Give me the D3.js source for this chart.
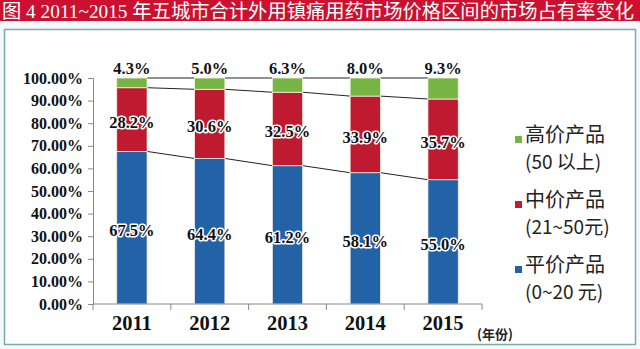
<!DOCTYPE html>
<html><head><meta charset="utf-8">
<script src="https://cdn.jsdelivr.net/npm/d3@7"></script>
<style>
html,body{margin:0;padding:0;background:#fff;}
svg{display:block;}
</style></head>
<body>
<svg id="c" width="640" height="349"></svg>
<script>
// ---- data ----
const years = ["2011","2012","2013","2014","2015"];
const lowShare  = [67.5, 64.4, 61.2, 58.1, 55.0];   // 平价产品
const midShare  = [28.2, 30.6, 32.5, 33.9, 35.7];   // 中价产品
const highShare = [4.3, 5.0, 6.3, 8.0, 9.3];        // 高价产品
const yTicks = [0,10,20,30,40,50,60,70,80,90,100];
const seriesNames = ["平价产品","中价产品","高价产品"];
const legendLines = [["高价产品","(50 以上)"],["中价产品","(21~50元)"],["平价产品","(0~20 元)"]];
const titleText = "图 4 2011~2015 年五城市合计外用镇痛用药市场价格区间的市场占有率变化";

const colors = {"平价产品":"#2462a8","中价产品":"#bf1a30","高价产品":"#76b443"};
const serif = "'Liberation Serif','DejaVu Serif',serif";
const cjk = "'Noto Sans CJK SC','Noto Sans',sans-serif";

const svg = d3.select("#c");
svg.append("rect").attr("width",640).attr("height",349).attr("fill","#f3f8fb");

// title bar
svg.append("rect").attr("x",0).attr("y",0).attr("width",640).attr("height",21).attr("fill","#cc1030");
svg.append("text").attr("x",2).attr("y",17.5).attr("fill","#fff")
  .attr("font-family",serif+","+cjk).attr("font-size",19.5)
  .attr("textLength",632).attr("lengthAdjust","spacingAndGlyphs")
  .text(titleText);

// chart box
svg.append("rect").attr("x",4.5).attr("y",29.5).attr("width",631).attr("height",315)
  .attr("fill","#fff").attr("stroke","#7fa9ab").attr("stroke-width",1.5);

// scales
const x = d3.scaleBand().domain(years).range([93,482]).paddingInner(0.61).paddingOuter(0.305);
const y = d3.scaleLinear().domain([0,100]).range([304,78]);

// stack
const rows = years.map((yr,i)=>({year:yr,"平价产品":lowShare[i],"中价产品":midShare[i],"高价产品":highShare[i]}));
const stack = d3.stack().keys(seriesNames)(rows);

// series lines (connect segment tops between bars)
stack.forEach(s=>{
  for(let i=0;i<years.length-1;i++){
    svg.append("line")
      .attr("x1",x(years[i])+x.bandwidth()).attr("y1",y(s[i][1]))
      .attr("x2",x(years[i+1])).attr("y2",y(s[i+1][1]))
      .attr("stroke","#222").attr("stroke-width",1);
  }
});

// bars
stack.forEach(s=>{
  svg.append("g").selectAll("rect").data(s).join("rect")
    .attr("x",d=>x(d.data.year)).attr("width",x.bandwidth())
    .attr("y",d=>y(d[1])).attr("height",d=>y(d[0])-y(d[1]))
    .attr("fill",colors[s.key]).attr("stroke","#f4f0e0").attr("stroke-width",0.8);
});

// axes
const yAxis = d3.axisLeft(y).tickValues(yTicks).tickSize(5).tickFormat(d=>d.toFixed(2)+"%");
const gy = svg.append("g").attr("transform","translate(93,0)").call(yAxis);
gy.select(".domain").attr("stroke","#888");
gy.selectAll(".tick line").attr("stroke","#888");
gy.selectAll("text").attr("font-family",serif).attr("font-weight","bold").attr("font-size",16)
  .attr("fill","#111").attr("x",-10);

const gx = svg.append("g").attr("transform","translate(0,304)");
gx.append("line").attr("x1",93).attr("x2",482).attr("stroke","#888");
years.concat(["_end"]).forEach((yr,i)=>{
  const xp = 93 + i*(389/years.length);
  gx.append("line").attr("x1",xp).attr("x2",xp).attr("y1",0).attr("y2",6).attr("stroke","#888");
});
gx.selectAll("text.yr").data(years).join("text").attr("class","yr")
  .attr("x",d=>x(d)+x.bandwidth()/2).attr("y",26).attr("text-anchor","middle")
  .attr("font-family",serif).attr("font-weight","bold").attr("font-size",20.5).attr("fill","#111")
  .text(d=>d);

// value labels with white halo
function label(xp,yp,txt){
  const t = svg.append("text").attr("x",xp).attr("y",yp).attr("text-anchor","middle")
    .attr("dominant-baseline","central")
    .attr("font-family",serif).attr("font-weight","bold").attr("font-size",16.5);
  t.clone().attr("stroke","#fff").attr("stroke-width",3).attr("stroke-linejoin","round").attr("fill","#fff").text(txt);
  t.attr("fill","#111").text(txt).raise();
}
stack.forEach(s=>{
  s.forEach(d=>{
    const cx = x(d.data.year)+x.bandwidth()/2;
    if(s.key==="高价产品") label(cx, y(d[1])-10, d.data[s.key].toFixed(1)+"%");
    else label(cx, y((d[0]+d[1])/2)+3, d.data[s.key].toFixed(1)+"%");
  });
});

// legend
const legendColors = ["高价产品","中价产品","平价产品"];
const legendY = [133, 198, 263];
legendLines.forEach((ln,i)=>{
  const g = svg.append("g");
  g.append("rect").attr("x",515).attr("y",legendY[i]+3).attr("width",7).attr("height",7).attr("fill",colors[legendColors[i]]);
  g.append("text").attr("x",525).attr("y",legendY[i]).attr("dominant-baseline","central")
    .attr("font-family",cjk).attr("font-size",20).attr("fill","#222").text(ln[0]);
  g.append("text").attr("x",525).attr("y",legendY[i]+27).attr("dominant-baseline","central")
    .attr("font-family",cjk).attr("font-size",19).attr("fill","#222").text(ln[1]);
});

// x unit
svg.append("text").attr("x",477).attr("y",333).attr("dominant-baseline","central")
  .attr("font-family",cjk).attr("font-size",13).attr("font-weight","bold").attr("fill","#222").text("(年份)");
</script>
</body></html>
